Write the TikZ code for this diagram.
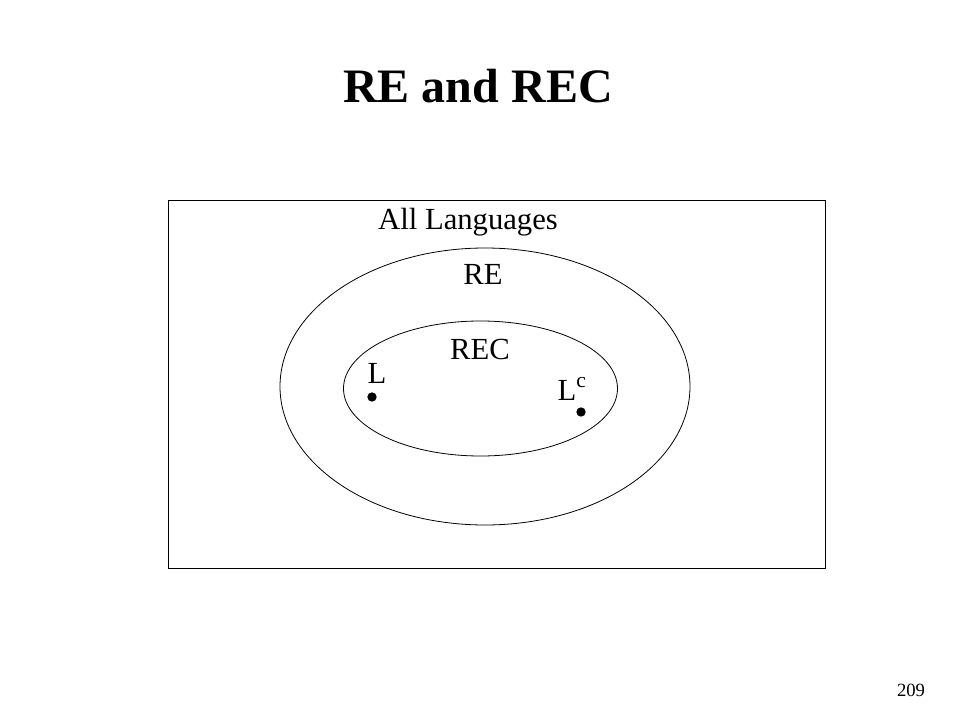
\documentclass[tikz,border=0pt]{standalone}
\usepackage{fontspec}
\setmainfont{Liberation Serif}
\begin{document}
\begin{tikzpicture}[
  x=0.75pt, y=-0.75pt,
  every node/.style={inner sep=0pt, anchor=base},
  label text/.style={font=\fontsize{23}{27}\selectfont},
  set line/.style={draw=black, line width=0.6pt},
  elem dot/.style={fill=black, circle, minimum size=7pt, anchor=center}
]
\useasboundingbox (0,0) rectangle (960,720);

% Title
\node[font=\fontsize{36}{42}\selectfont\bfseries] (title) at (478,103) {RE and REC};

% Sets
\draw[set line] (168,200) rectangle (825,568);
\draw[set line] (485,386.5) ellipse [x radius=205, y radius=138.5];
\draw[set line] (480.5,388.5) ellipse [x radius=137, y radius=67.5];

% Labels
\node[label text] (all) at (468,230) {All Languages};
\node[label text] (re) at (483,285) {RE};
\node[label text] (rec) at (480,359) {REC};
\node[label text] (l) at (377,383) {L};
\node[label text] (lc) at (572,400) {L\textsuperscript{c}};

% Elements
\node[elem dot] (ldot) at (372,397) {};
\node[elem dot] (lcdot) at (581,412) {};

% Page number
\node[font=\fontsize{14}{16}\selectfont] (page) at (911,696) {209};
\end{tikzpicture}
\end{document}
